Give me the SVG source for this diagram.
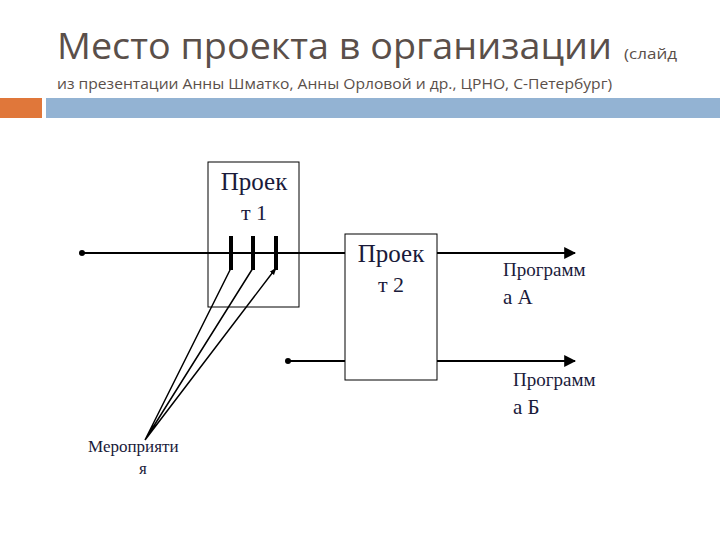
<svg xmlns="http://www.w3.org/2000/svg" width="720" height="540" viewBox="0 0 720 540">
<defs>
<style>
.t{font-family:"Liberation Serif",serif;fill:#1a1a3a}
.c{stroke:#000;stroke-width:2;fill:none}
.b{fill:#fff;stroke:#000;stroke-width:1}
</style>
<marker id="a" viewBox="0 0 10 10" refX="9" refY="5" markerWidth="6" markerHeight="6" orient="auto"><path d="M0,0L10,5L0,10z"/></marker>
<marker id="s" viewBox="0 0 10 10" refX="9" refY="5" markerWidth="5" markerHeight="5" orient="auto"><path d="M0,1.5L10,5L0,8.5z"/></marker>
<marker id="d" viewBox="0 0 10 10" refX="5" refY="5" markerWidth="3" markerHeight="3"><circle cx="5" cy="5" r="5"/></marker>
</defs>
<rect width="720" height="540" fill="#fff"/>
<text x="57" y="59" font-family="Open Sans,sans-serif" font-size="37" fill="#5a4f4a" textLength="555" lengthAdjust="spacingAndGlyphs">Место проекта в организации</text>
<text x="624" y="59" font-family="Open Sans,sans-serif" font-size="14" fill="#5a4f4a" textLength="53" lengthAdjust="spacingAndGlyphs">(слайд</text>
<text x="57" y="89" font-family="Open Sans,sans-serif" font-size="15" fill="#5a4f4a" textLength="555" lengthAdjust="spacingAndGlyphs">из презентации Анны Шматко, Анны Орловой и др., ЦРНО, С-Петербург)</text>
<rect x="0" y="98" width="42" height="20" fill="#e0773a"/>
<rect x="46" y="98" width="674" height="20" fill="#93b3d3"/>
<g id="connectors">
<path class="c" d="M82,253H575" marker-start="url(#d)" marker-end="url(#a)"/>
<path class="c" d="M288,361H575" marker-start="url(#d)" marker-end="url(#a)"/>
</g>
<g id="project1"><rect x="208" y="162" width="91" height="145" fill="none" stroke="#000"/>
<text class="t" x="254" y="190" font-size="25" text-anchor="middle">Проек</text>
<text class="t" x="254" y="220" font-size="22" text-anchor="middle">т 1</text></g>
<g id="project2"><rect class="b" x="345" y="234" width="92" height="146"/>
<text class="t" x="391" y="262" font-size="25" text-anchor="middle">Проек</text>
<text class="t" x="391" y="292" font-size="22" text-anchor="middle">т 2</text></g>
<g id="progA"><text class="t" x="503" y="276" font-size="19">Программ</text><text class="t" x="503" y="304" font-size="21">а А</text></g>
<g id="progB"><text class="t" x="513" y="386" font-size="19">Программ</text><text class="t" x="513" y="414" font-size="21">а Б</text></g>
<g id="events"><text class="t" x="88" y="452" font-size="17">Мероприяти</text><text class="t" x="139" y="474" font-size="17">я</text></g>
<g id="links">
<path d="M231,236V270M253,236V270M276,236V270" stroke="#000" stroke-width="4"/>
<path d="M145,440L231,268M145,440L253,268M145,440L276,268" stroke="#000" stroke-width="1.5" marker-end="url(#s)"/>
</g>
</svg>
